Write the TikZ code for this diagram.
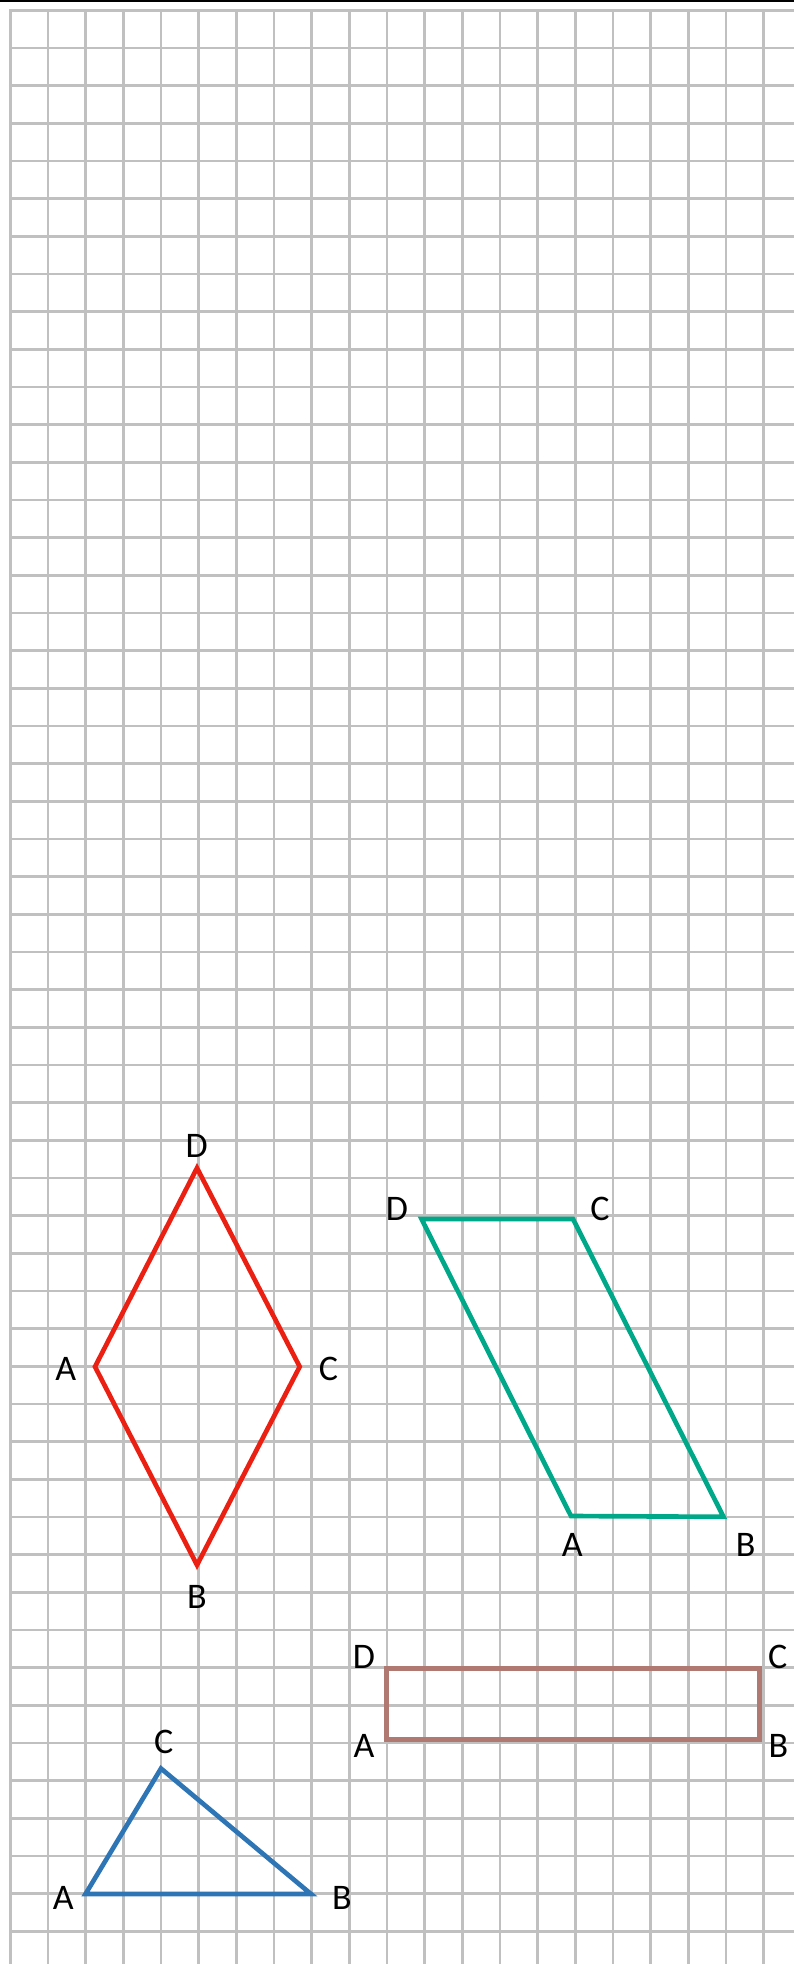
\documentclass[tikz,border=0pt]{standalone}
\usepackage{fontspec}
\setmainfont{Carlito}
\definecolor{gridgray}{RGB}{192,192,192}
\definecolor{rhred}{RGB}{236,32,18}
\definecolor{pgteal}{RGB}{0,168,138}
\definecolor{rcbrown}{RGB}{176,122,115}
\definecolor{trblue}{RGB}{46,117,182}
\tikzset{
  gridline/.style={draw=gridgray, line width=2pt},
  figline/.style={line width=3.5pt, line join=miter},
  lbl/.style={inner sep=0pt, anchor=center, font=\fontsize{27}{32}\selectfont}
}
\begin{document}
\begin{tikzpicture}[x=0.75pt, y=-0.75pt]
\useasboundingbox (0,0) rectangle (794,1964);
\fill[white] (0,0) rectangle (794,1964);
% grid
\foreach \k in {0,...,20}{
  \draw[gridline] ({10.5+37.66*\k},10) -- ({10.5+37.66*\k},1964);
}
\foreach \j in {0,...,51}{
  \draw[gridline] (9,{10.5+37.66*\j}) -- (794,{10.5+37.66*\j});
}
\fill[black] (0,0) rectangle (794,2.4);
% rhombus
\coordinate (rD) at (197,1168);
\coordinate (rA) at (95,1366.7);
\coordinate (rC) at (299.7,1366.7);
\coordinate (rB) at (197,1565);
\draw[figline, rhred] (rA) -- (rB) -- (rC) -- (rD) -- cycle;
\node[lbl] (lrD) at (196.8,1145.8) {D};
\node[lbl] (lrA) at (65.8,1368.7) {A};
\node[lbl] (lrC) at (328.5,1368.7) {C};
\node[lbl] (lrB) at (197,1597.2) {B};
% parallelogram
\coordinate (pD) at (421.5,1219);
\coordinate (pC) at (573,1219);
\coordinate (pB) at (723.5,1516.8);
\coordinate (pA) at (571,1516);
\draw[figline, pgteal] (pA) -- (pB) -- (pC) -- (pD) -- cycle;
\node[lbl] (lpD) at (397,1209.2) {D};
\node[lbl] (lpC) at (600,1209.2) {C};
\node[lbl] (lpA) at (572.3,1545) {A};
\node[lbl] (lpB) at (745.7,1545) {B};
% rectangle
\coordinate (qA) at (386.8,1739.8);
\coordinate (qB) at (759.8,1739.8);
\coordinate (qC) at (759.8,1668.8);
\coordinate (qD) at (386.8,1668.8);
\draw[figline, rcbrown] (qA) -- (qB) -- (qC) -- (qD) -- cycle;
\node[lbl] (lqD) at (364,1656.7) {D};
\node[lbl] (lqC) at (777.8,1656.7) {C};
\node[lbl] (lqA) at (364,1745.8) {A};
\node[lbl] (lqB) at (778.3,1745.8) {B};
% triangle
\coordinate (tA) at (85.5,1894);
\coordinate (tB) at (311,1894);
\coordinate (tC) at (161,1768.5);
\draw[figline, trblue] (tA) -- (tB) -- (tC) -- cycle;
\node[lbl] (ltA) at (63.3,1898.2) {A};
\node[lbl] (ltB) at (342,1898.2) {B};
\node[lbl] (ltC) at (163.8,1741.5) {C};
\end{tikzpicture}
\end{document}
